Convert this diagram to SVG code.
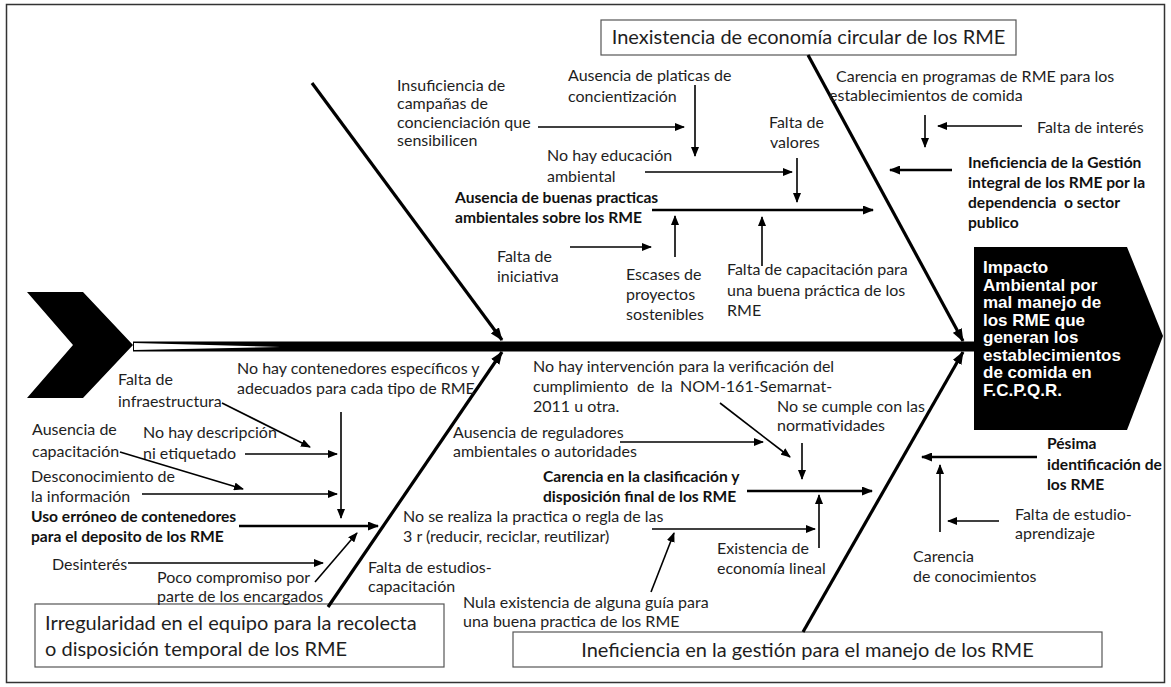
<svg xmlns="http://www.w3.org/2000/svg" width="1171" height="687" viewBox="0 0 1171 687">
  <style>
    .t { font-family: Lato, "Open Sans", sans-serif; font-size: 16px; fill: #1e1e1e; }
    .b { font-family: Lato, "Open Sans", sans-serif; font-size: 15.6px; font-weight: bold; fill: #111; }
    .big { font-family: Lato, "Open Sans", sans-serif; font-size: 20px; fill: #1e1e1e; }
    .head { font-family: "Liberation Sans", Arial, sans-serif; font-size: 17px; font-weight: bold; fill: #fff; }
    .box { fill: #fff; stroke: #555; stroke-width: 1.2; }
    .bone { stroke: #000; stroke-width: 3.2; fill: none; marker-end: url(#big); }
    .sub { stroke: #000; stroke-width: 1.6; fill: none; marker-end: url(#ah); }
    .main { stroke: #000; stroke-width: 2.4; fill: none; marker-end: url(#ah2); }
  </style>
  <defs>
    <marker id="ah" viewBox="0 0 10 8" refX="9" refY="4" markerWidth="10" markerHeight="8" markerUnits="userSpaceOnUse" orient="auto">
      <path d="M0,0 L10,4 L0,8 z" fill="#000"/>
    </marker>
    <marker id="ah2" viewBox="0 0 11 9" refX="10" refY="4.5" markerWidth="11" markerHeight="9" markerUnits="userSpaceOnUse" orient="auto">
      <path d="M0,0 L11,4.5 L0,9 z" fill="#000"/>
    </marker>
    <marker id="big" viewBox="0 0 13 10" refX="12" refY="5" markerWidth="13" markerHeight="10" markerUnits="userSpaceOnUse" orient="auto">
      <path d="M0,0 L13,5 L0,10 z" fill="#000"/>
    </marker>
  </defs>

  <!-- frame -->
  <rect x="6.5" y="4.5" width="1158" height="678" fill="#fff" stroke="#333" stroke-width="1.5"/>

  <!-- tail chevron and spine -->
  <g id="spine">
    <polygon points="27,292 83,292 133,345 83,398 27,398 73,345" fill="#000"/>
    <rect x="133" y="341.5" width="842" height="10" fill="#000"/>
    <polygon points="134,343 280,347 134,350" fill="#fff"/>
  </g>

  <!-- effect head -->
  <g id="effect">
    <polygon points="974,247 1127,247 1163,336 1127,430 974,430" fill="#000"/>
    <text class="head" x="983" y="273">Impacto</text>
    <text class="head" x="983" y="290.5">Ambiental por</text>
    <text class="head" x="983" y="308">mal manejo de</text>
    <text class="head" x="983" y="325.5">los RME que</text>
    <text class="head" x="983" y="343">generan los</text>
    <text class="head" x="983" y="360.5">establecimientos</text>
    <text class="head" x="983" y="378">de comida en</text>
    <text class="head" x="983" y="395.5">F.C.P.Q.R.</text>
  </g>

  <!-- category boxes -->
  <g id="cat-economia">
    <rect class="box" x="601" y="20" width="415" height="35"/>
    <text class="big" x="808.5" y="44" text-anchor="middle">Inexistencia de economía circular de los RME</text>
  </g>
  <g id="cat-equipo">
    <rect class="box" x="35" y="604" width="409" height="63"/>
    <text class="big" x="45" y="630">Irregularidad en el equipo para la recolecta</text>
    <text class="big" x="45" y="656">o disposición temporal de los RME</text>
  </g>
  <g id="cat-gestion">
    <rect class="box" x="513" y="632" width="589" height="35"/>
    <text class="big" x="807.5" y="657" text-anchor="middle">Ineficiencia en la gestión para el manejo de los RME</text>
  </g>

  <!-- connectors -->
  <g id="connectors">
    <!-- main bones -->
    <line class="bone" x1="312" y1="83" x2="502" y2="340"/>
    <line class="bone" x1="808" y1="55" x2="963" y2="341"/>
    <line class="bone" x1="328" y1="607" x2="502" y2="352"/>
    <line class="bone" x1="803" y1="632" x2="963" y2="352"/>

    <!-- upper left branch -->
    <line class="main" x1="652" y1="210" x2="873" y2="210"/>
    <line class="sub" x1="538" y1="127" x2="684" y2="127"/>
    <line class="sub" x1="695" y1="85" x2="695" y2="156"/>
    <line class="sub" x1="645" y1="172" x2="792" y2="172"/>
    <line class="sub" x1="797" y1="158" x2="797" y2="202"/>
    <line class="sub" x1="570" y1="247" x2="651" y2="247"/>
    <line class="sub" x1="675" y1="257" x2="675" y2="216"/>
    <line class="sub" x1="762" y1="266" x2="762" y2="217"/>

    <!-- upper right branch -->
    <line class="sub" x1="925" y1="115" x2="925" y2="147"/>
    <line class="sub" x1="1022" y1="126" x2="938" y2="126"/>
    <line class="main" x1="952" y1="170" x2="890" y2="170"/>

    <!-- lower left branch -->
    <line class="sub" x1="341" y1="412" x2="341" y2="518"/>
    <line class="sub" x1="222" y1="403" x2="310" y2="447"/>
    <line class="sub" x1="120" y1="452" x2="243" y2="489"/>
    <line class="sub" x1="245" y1="454" x2="337" y2="454"/>
    <line class="sub" x1="142" y1="494" x2="337" y2="494"/>
    <line class="main" x1="239" y1="526" x2="378" y2="526"/>
    <line class="sub" x1="128" y1="563" x2="323" y2="563"/>
    <line class="sub" x1="315" y1="582" x2="357" y2="533"/>

    <!-- lower right branch -->
    <line class="sub" x1="720" y1="403" x2="790" y2="457"/>
    <line class="sub" x1="620" y1="442" x2="763" y2="442"/>
    <line class="sub" x1="802" y1="443" x2="802" y2="479"/>
    <line class="main" x1="747" y1="491" x2="872" y2="491"/>
    <line class="sub" x1="652" y1="529" x2="815" y2="529"/>
    <line class="sub" x1="651" y1="592" x2="674" y2="533"/>
    <line class="sub" x1="819" y1="548" x2="819" y2="495"/>
    <line class="main" x1="1037" y1="457" x2="922" y2="457"/>
    <line class="sub" x1="940" y1="532" x2="940" y2="465"/>
    <line class="sub" x1="999" y1="521" x2="948" y2="521"/>
  </g>

  <!-- upper left causes -->
  <g id="ausencia-practicas">
    <text class="b" x="455" y="203">Ausencia de buenas practicas</text>
    <text class="b" x="455" y="223">ambientales sobre los RME</text>
  </g>
  <g id="insuficiencia-campanas">
    <text class="t" x="397" y="90.5">Insuficiencia de</text>
    <text class="t" x="397" y="109">campañas de</text>
    <text class="t" x="397" y="127.5">concienciación que</text>
    <text class="t" x="397" y="146">sensibilicen</text>
  </g>
  <g id="ausencia-platicas">
    <text class="t" x="568" y="81">Ausencia de platicas de</text>
    <text class="t" x="568" y="101.5">concientización</text>
  </g>
  <g id="no-educacion">
    <text class="t" x="547" y="161">No hay educación</text>
    <text class="t" x="547" y="181.5">ambiental</text>
  </g>
  <g id="falta-valores">
    <text class="t" x="769" y="128">Falta de</text>
    <text class="t" x="770" y="148">valores</text>
  </g>
  <g id="falta-iniciativa">
    <text class="t" x="497" y="262">Falta de</text>
    <text class="t" x="497" y="282">iniciativa</text>
  </g>
  <g id="escases-proyectos">
    <text class="t" x="626" y="280">Escases de</text>
    <text class="t" x="626" y="300">proyectos</text>
    <text class="t" x="626" y="319.5">sostenibles</text>
  </g>
  <g id="falta-capacitacion">
    <text class="t" x="727" y="275">Falta de capacitación para</text>
    <text class="t" x="727" y="295.5">una buena práctica de los</text>
    <text class="t" x="727" y="316">RME</text>
  </g>

  <!-- upper right causes -->
  <g id="carencia-programas">
    <text class="t" x="836" y="82">Carencia en programas de RME para los</text>
    <text class="t" x="829" y="100.5">establecimientos de comida</text>
  </g>
  <g id="falta-interes">
    <text class="t" x="1037" y="133">Falta de interés</text>
  </g>
  <g id="ineficiencia-gestion-integral">
    <text class="b" x="968" y="168">Ineficiencia de la Gestión</text>
    <text class="b" x="968" y="188">integral de los RME por la</text>
    <text class="b" x="968" y="208" xml:space="preserve">dependencia  o sector</text>
    <text class="b" x="968" y="228">publico</text>
  </g>

  <!-- lower left causes -->
  <g id="no-contenedores">
    <text class="t" x="237" y="374">No hay contenedores específicos y</text>
    <text class="t" x="237" y="394">adecuados para cada tipo de RME</text>
  </g>
  <g id="falta-infraestructura">
    <text class="t" x="118" y="385">Falta de</text>
    <text class="t" x="118" y="407">infraestructura</text>
  </g>
  <g id="ausencia-capacitacion">
    <text class="t" x="32" y="435">Ausencia de</text>
    <text class="t" x="32" y="457">capacitación</text>
  </g>
  <g id="no-descripcion">
    <text class="t" x="143" y="438">No hay descripción</text>
    <text class="t" x="143" y="459">ni etiquetado</text>
  </g>
  <g id="desconocimiento">
    <text class="t" x="31" y="482">Desconocimiento de</text>
    <text class="t" x="31" y="502">la información</text>
  </g>
  <g id="uso-erroneo">
    <text class="b" x="31" y="522">Uso erróneo de contenedores</text>
    <text class="b" x="31" y="541.5">para el deposito de los RME</text>
  </g>
  <g id="desinteres">
    <text class="t" x="52" y="570">Desinterés</text>
  </g>
  <g id="poco-compromiso">
    <text class="t" x="157" y="583">Poco compromiso por</text>
    <text class="t" x="157" y="602">parte de los encargados</text>
  </g>
  <g id="falta-estudios">
    <text class="t" x="368" y="573">Falta de estudios-</text>
    <text class="t" x="368" y="592">capacitación</text>
  </g>

  <!-- lower right causes -->
  <g id="no-intervencion">
    <text class="t" x="533" y="372">No hay intervención para la verificación del</text>
    <text class="t" y="392"><tspan x="533">cumplimiento</tspan><tspan x="637">de</tspan><tspan x="661">la</tspan><tspan x="680">NOM-161-Semarnat-</tspan></text>
    <text class="t" x="533" y="412">2011 u otra.</text>
  </g>
  <g id="ausencia-reguladores">
    <text class="t" x="453" y="438">Ausencia de reguladores</text>
    <text class="t" x="453" y="457">ambientales o autoridades</text>
  </g>
  <g id="no-cumple">
    <text class="t" x="777" y="412">No se cumple con las</text>
    <text class="t" x="777" y="431">normatividades</text>
  </g>
  <g id="carencia-clasificacion">
    <text class="b" x="543" y="482">Carencia en la clasificación y</text>
    <text class="b" x="543" y="502">disposición final de los RME</text>
  </g>
  <g id="no-3r">
    <text class="t" x="403" y="522">No se realiza la practica o regla de las</text>
    <text class="t" x="403" y="542">3 r (reducir, reciclar, reutilizar)</text>
  </g>
  <g id="nula-guia">
    <text class="t" x="463" y="608">Nula existencia de alguna guía para</text>
    <text class="t" x="463" y="627">una buena practica de los RME</text>
  </g>
  <g id="economia-lineal">
    <text class="t" x="717" y="554">Existencia de</text>
    <text class="t" x="717" y="574">economía lineal</text>
  </g>
  <g id="pesima-identificacion">
    <text class="b" x="1047" y="449">Pésima</text>
    <text class="b" x="1047" y="470">identificación de</text>
    <text class="b" x="1047" y="490">los RME</text>
  </g>
  <g id="falta-estudio-aprendizaje">
    <text class="t" x="1015" y="520">Falta de estudio-</text>
    <text class="t" x="1015" y="539">aprendizaje</text>
  </g>
  <g id="carencia-conocimientos">
    <text class="t" x="913" y="562">Carencia</text>
    <text class="t" x="913" y="582">de conocimientos</text>
  </g>
</svg>
